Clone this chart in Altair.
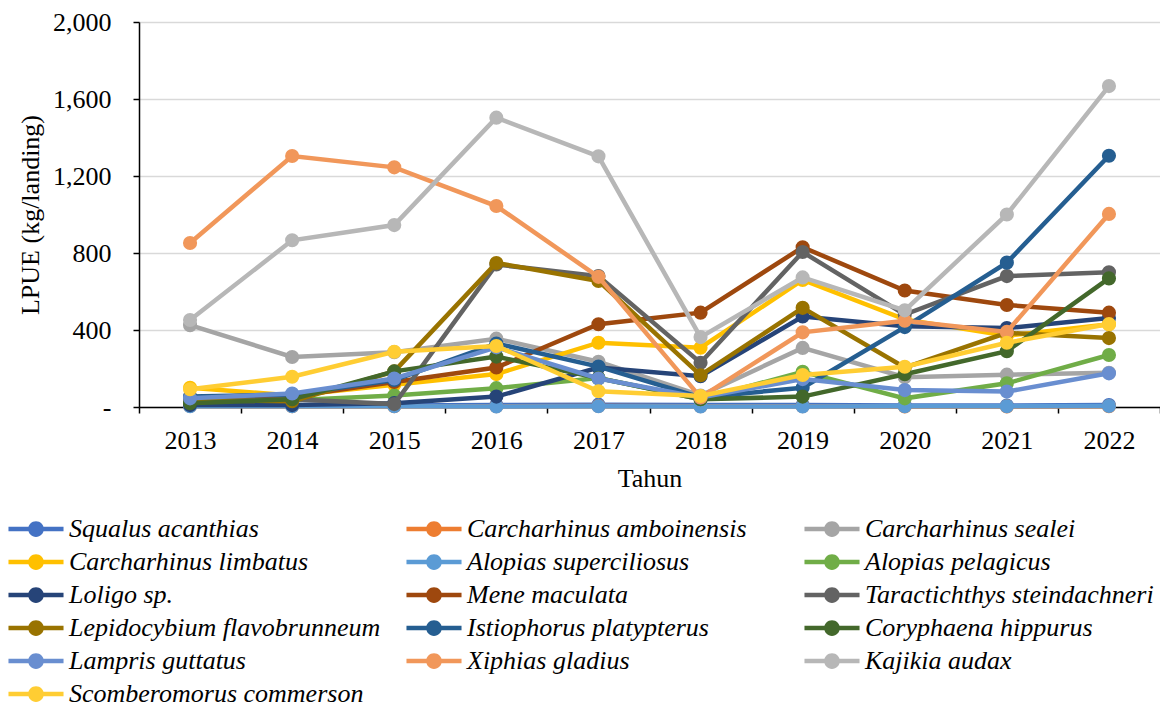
import altair as alt
import pandas as pd

years = list(range(2013, 2023))

series_names = [
    "Squalus acanthias", "Carcharhinus amboinensis", "Carcharhinus sealei",
    "Carcharhinus limbatus", "Alopias superciliosus", "Alopias pelagicus",
    "Loligo sp.", "Mene maculata", "Taractichthys steindachneri",
    "Lepidocybium flavobrunneum", "Istiophorus platypterus", "Coryphaena hippurus",
    "Lampris guttatus", "Xiphias gladius", "Kajikia audax",
    "Scomberomorus commerson",
]
colors = [
    "#4472C4", "#ED7D31", "#A5A5A5", "#FFC000", "#5B9BD5", "#70AD47",
    "#264478", "#9E480E", "#636363", "#997300", "#255E91", "#43682B",
    "#698ED0", "#F1975A", "#B7B7B7", "#FFCD33",
]

squalus = [10, 8, 8, 10, 12, 10, 10, 8, 8, 10]
amboinensis = [5, 4, 4, 4, 5, 4, 4, 3, 3, 4]
sealei = [425, 260, 285, 355, 235, 60, 307, 155, 168, 178]
limbatus = [100, 60, 115, 171, 334, 308, 660, 455, 370, 430]
superciliosus = [4, 4, 4, 3, 4, 3, 3, 4, 4, 5]
pelagicus = [22, 35, 60, 98, 150, 40, 183, 45, 123, 270]
loligo = [10, 10, 20, 54, 205, 160, 470, 420, 410, 462]
mene = [40, 55, 130, 205, 430, 490, 830, 605, 530, 490]
taractichthys = [30, 40, 15, 740, 680, 230, 805, 480, 680, 700]
lepidocybium = [35, 30, 185, 748, 655, 165, 515, 205, 385, 358]
istiophorus = [55, 65, 140, 330, 210, 50, 100, 415, 750, 1305]
coryphaena = [20, 40, 185, 262, 150, 40, 54, 170, 290, 668]
lampris = [45, 70, 148, 310, 148, 50, 145, 88, 80, 175]
xiphias = [852, 1304, 1245, 1044, 676, 50, 388, 448, 390, 1003]
kajikia = [452, 866, 945, 1503, 1302, 363, 673, 502, 1000, 1667]
scomberomorus = [92, 157, 287, 317, 82, 57, 166, 209, 334, 431]

all_values = [
    squalus, amboinensis, sealei, limbatus, superciliosus, pelagicus,
    loligo, mene, taractichthys, lepidocybium, istiophorus, coryphaena,
    lampris, xiphias, kajikia, scomberomorus,
]

rows = []
for name, vals in zip(series_names, all_values):
    for yr, v in zip(years, vals):
        rows.append({"series": name, "year": yr, "value": v})
df = pd.DataFrame(rows)

FONT = "Liberation Serif"
FS = 26

color_scale = alt.Scale(domain=series_names, range=colors)

x_enc = alt.X(
    "year:Q",
    scale=alt.Scale(domain=[2012.5, 2022.5], nice=False, zero=False),
    axis=alt.Axis(
        values=[2012.5 + i for i in range(11)],
        labelExpr="datum.value > 2022 ? '' : format(datum.value + 0.5, 'd')",
        labelOffset=51,
        labelFlush=False,
        labelOverlap=False,
        labelBound=False,
        grid=False,
        tickSize=6,
        tickColor="black",
        tickWidth=1.5,
        domainColor="black",
        domainWidth=1.5,
        labelFont=FONT,
        labelFontSize=FS,
        labelColor="black",
        labelPadding=14,
        title="Tahun",
        titleFont=FONT,
        titleFontSize=FS,
        titleFontWeight="normal",
        titleColor="black",
        titlePadding=12,
    ),
)

y_enc = alt.Y(
    "value:Q",
    scale=alt.Scale(domain=[0, 2000], nice=False),
    axis=alt.Axis(
        values=[0, 400, 800, 1200, 1600, 2000],
        labelExpr="datum.value == 0 ? '-' : format(datum.value, ',')",
        grid=True,
        gridColor="#D9D9D9",
        gridWidth=1.5,
        tickSize=6,
        tickColor="black",
        tickWidth=1.5,
        domainColor="black",
        domainWidth=1.5,
        labelFont=FONT,
        labelFontSize=FS,
        labelColor="black",
        labelPadding=22,
        title="LPUE (kg/landing)",
        titleFont=FONT,
        titleFontSize=FS,
        titleFontWeight="normal",
        titleColor="black",
        titlePadding=9,
    ),
)

symbol_path = (
    "M-3.67,-0.3H3.67V0.3H-3.67Z "
    "M-1.05,0A1.05,1.05 0 1,1 1.05,0A1.05,1.05 0 1,1 -1.05,0Z"
)

legend = alt.Legend(
    orient="none",
    legendX=-116,
    legendY=494,
    columns=3,
    direction="horizontal",
    title=None,
    symbolType=symbol_path,
    symbolSize=225,
    symbolStrokeWidth=0,
    symbolOpacity=1,
    labelFont=FONT,
    labelFontSize=FS,
    labelFontStyle="italic",
    labelColor="black",
    labelOffset=20,
    labelLimit=600,
    rowPadding=7,
    columnPadding=25,
    gridAlign="all",
    padding=0,
)

base = alt.Chart(df)
layers = []
for name, col in zip(series_names, colors):
    sub = base.transform_filter(alt.datum.series == name)
    line = sub.mark_line(strokeWidth=4.5, color=col).encode(x=x_enc, y=y_enc)
    pts = sub.mark_point(filled=True, size=200, opacity=1, strokeWidth=0).encode(
        x=x_enc, y=y_enc,
        color=alt.Color("series:N", scale=color_scale, legend=legend),
    )
    layers += [line, pts]

chart = alt.layer(*layers).properties(
    width=1021,
    height=385,
    padding={"left": 131, "top": 14, "right": 0, "bottom": 300},
    autosize=alt.AutoSizeParams(type="none"),
).configure_view(stroke=None).configure(background="white")

chart.save("out.html", embed_options={"renderer": "svg", "actions": False})
